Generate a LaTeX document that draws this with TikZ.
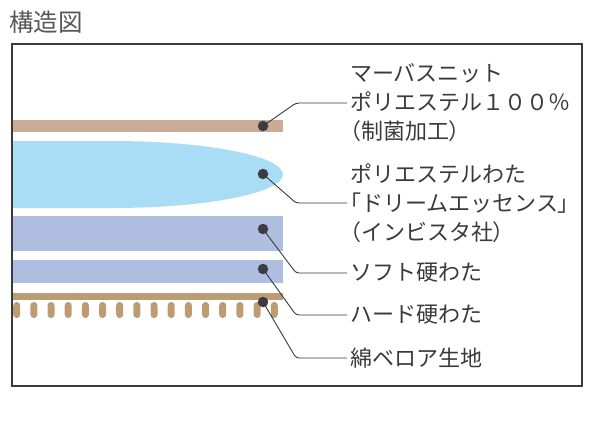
\documentclass[tikz,border=0pt]{standalone}
\usepackage{fontspec}
\setmainfont{Noto Sans CJK JP}
\newfontfamily\paltfont[RawFeature=+palt]{Noto Sans CJK JP}
\newcommand{\pb}[1]{{\paltfont #1}}
\definecolor{txt}{HTML}{3A3A3A}
\definecolor{dotc}{HTML}{3C3D44}
\definecolor{bandtop}{HTML}{C9AB96}
\definecolor{blobc}{HTML}{A9DDF5}
\definecolor{lav}{HTML}{AEBDE0}
\definecolor{brownb}{HTML}{BD9B73}
\begin{document}
\begin{tikzpicture}[x=1pt,y=-1pt,
  dot/.style={circle,fill=dotc,inner sep=0pt,minimum size=10.5pt},
  lbl/.style={anchor=west,align=left,font=\fontsize{22}{29}\selectfont,text=txt,inner sep=0pt},
  lead/.style={draw=txt,line width=0.9pt,rounded corners=3pt},
  frame/.style={draw=txt,line width=1.4pt},
  tick/.style={fill=brownb,rounded corners=3.4pt}]
\useasboundingbox (0,0) rectangle (600,424);
\node[anchor=west,font=\fontsize{24.5}{28}\selectfont,text=txt!85,inner sep=0pt] (title) at (9,22) {構造図};
\draw[frame] (12,44) rectangle (582,386);
% layers
\fill[bandtop] (13,120) rectangle (283,132);
\fill[blobc] (13,141) -- (112,141) arc[start angle=-90,end angle=90,x radius=171,y radius=33.5] -- (13,208) -- cycle;
\fill[lav] (13,216) rectangle (283,251);
\fill[lav] (13,260) rectangle (283,283);
\fill[brownb] (13,293) rectangle (283,299.5);
\foreach \i in {0,...,15}{
  \fill[tick] ({13.2+17.17*\i},302) rectangle ({20.2+17.17*\i},318);
}
% bend points
\coordinate (b1) at (296,103);
\coordinate (b2) at (296,203);
\coordinate (b3) at (296,273);
\coordinate (b4) at (296,315);
\coordinate (b5) at (296,358);
% labels
\node[lbl] (l1) at (350,103) {マーバスニット\\ポリエステル１００％\\\pb{（}制菌加工\pb{）}};
\node[lbl] (l2) at (350,203) {ポリエステルわた\\\pb{「}ドリームエッセンス\pb{」}\\\pb{（}インビスタ社\pb{）}};
\node[lbl] (l3) at (350,273) {ソフト硬わた};
\node[lbl] (l4) at (350,315) {ハード硬わた};
\node[lbl] (l5) at (350,358) {綿ベロア生地};
% dots
\node[dot] (d1) at (263,126) {};
\node[dot] (d2) at (263,174) {};
\node[dot] (d3) at (263,229) {};
\node[dot] (d4) at (263,269) {};
\node[dot] (d5) at (263,302) {};
% leaders
\draw[lead] (d1.center) -- (b1) -- ([xshift=-3pt]l1.west);
\draw[lead] (d2.center) -- (b2) -- ([xshift=-3pt]l2.west);
\draw[lead] (d3.center) -- (b3) -- ([xshift=-3pt]l3.west);
\draw[lead] (d4.center) -- (b4) -- ([xshift=-3pt]l4.west);
\draw[lead] (d5.center) -- (b5) -- ([xshift=-3pt]l5.west);
\end{tikzpicture}
\end{document}
